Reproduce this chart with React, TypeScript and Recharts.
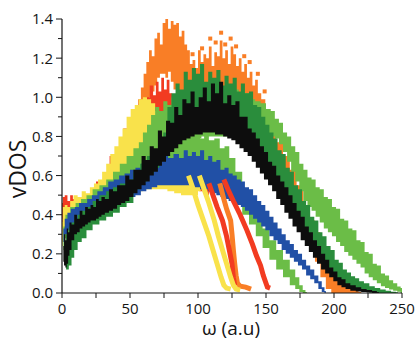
import React from 'react';
import { ComposedChart, Area, Line, Scatter, XAxis, YAxis } from 'recharts';

// [ω, lower, upper] envelopes of each noisy vDOS band
type Band = [number, number, number][];
// [ω, vDOS] points of the thin falling branches
type Pts = [number, number][];

const xTicks = [0, 25, 50, 75, 100, 125, 150, 175, 200, 225, 250];
const yTicks = [0, 0.1, 0.2, 0.3, 0.4, 0.5, 0.6, 0.7, 0.8, 0.9, 1.0, 1.1, 1.2, 1.3, 1.4];

const orangeBand: Band = [
  [55, 0.9, 0.92], [57, 0.9, 0.99], [59, 0.9, 1.05], [61, 0.92, 1.12], [63, 0.95, 1.18],
  [65, 1.0, 1.24], [67, 1.03, 1.21], [69, 1.06, 1.3], [71, 1.1, 1.33], [73, 1.12, 1.27],
  [75, 1.12, 1.38], [77, 1.1, 1.4], [79, 1.13, 1.35], [81, 1.08, 1.39], [83, 1.04, 1.37],
  [85, 0.98, 1.38], [87, 0.95, 1.31], [89, 0.92, 1.34], [91, 0.9, 1.27], [93, 0.9, 1.24],
  [95, 0.9, 1.17], [97, 0.9, 1.19], [99, 0.9, 1.15], [101, 0.9, 1.24], [103, 0.9, 1.18],
  [105, 0.9, 1.22], [107, 0.9, 1.2], [109, 0.9, 1.26], [111, 0.9, 1.16], [113, 0.9, 1.23],
  [115, 0.9, 1.21], [117, 0.9, 1.29], [119, 0.9, 1.2], [121, 0.9, 1.24], [123, 0.9, 1.17],
  [125, 0.9, 1.26], [127, 0.9, 1.22], [129, 0.9, 1.16], [131, 0.88, 1.2], [133, 0.86, 1.13],
  [135, 0.84, 1.17], [137, 0.82, 1.1], [139, 0.8, 1.13], [141, 0.78, 1.06], [143, 0.76, 1.09],
  [145, 0.73, 1.02], [148, 0.7, 0.99], [151, 0.66, 0.93], [155, 0.6, 0.84], [160, 0.54, 0.77],
  [165, 0.48, 0.7], [170, 0.42, 0.63], [175, 0.36, 0.55], [180, 0.3, 0.45], [184, 0.24, 0.37],
  [188, 0.16, 0.31], [192, 0.08, 0.25], [196, 0.02, 0.19], [200, 0, 0.13], [204, 0, 0.09],
  [208, 0, 0.06], [212, 0, 0.03], [216, 0, 0.015], [220, 0, 0.005],
];

const orangeDots: Pts = [
  [96, 1.22], [103, 1.25], [109, 1.3], [113, 1.28], [117, 1.33], [120, 1.27],
  [124, 1.3], [128, 1.26], [134, 1.21], [138, 1.18], [144, 1.12], [149, 1.03],
];

const orangeBranch: Pts = [
  [116, 0.56], [119, 0.48], [121, 0.43], [124, 0.37], [125, 0.3], [126, 0.22], [127, 0.15],
  [128, 0.09], [129, 0.05], [131, 0.035], [135, 0.03], [139, 0.02],
];

const redBand: Band = [
  [0, 0.36, 0.46], [1, 0.38, 0.49], [3, 0.4, 0.5], [5, 0.41, 0.47], [7, 0.41, 0.5],
  [9, 0.42, 0.48], [11, 0.42, 0.48], [14, 0.42, 0.47], [20, 0.43, 0.5], [30, 0.45, 0.57],
  [40, 0.48, 0.7], [50, 0.51, 0.84], [56, 0.53, 0.92], [60, 0.54, 0.96], [63, 0.55, 1.0],
  [66, 0.55, 1.06], [68, 0.56, 1.01], [70, 0.56, 1.08], [72, 0.56, 1.03], [74, 0.56, 1.1],
  [76, 0.56, 1.04], [78, 0.56, 1.09], [80, 0.56, 1.02], [82, 0.56, 0.96], [86, 0.55, 0.88],
  [92, 0.54, 0.78], [98, 0.53, 0.68], [104, 0.52, 0.6], [108, 0.5, 0.56],
];

const redBranchA: Pts = [
  [108, 0.56], [111, 0.5], [114, 0.44], [118, 0.37], [121, 0.29], [123, 0.22], [125, 0.15],
  [126, 0.08], [127, 0.04],
];

const redBranchB: Pts = [
  [119, 0.58], [122, 0.53], [126, 0.47], [131, 0.4], [136, 0.32], [140, 0.25], [143, 0.19],
  [146, 0.14], [148, 0.09], [150, 0.05], [151, 0.03], [153, 0.025],
];

const yellowBand: Band = [
  [0, 0.24, 0.36], [1, 0.26, 0.44], [3, 0.3, 0.45], [5, 0.32, 0.44], [7, 0.34, 0.47],
  [10, 0.36, 0.5], [13, 0.37, 0.49], [16, 0.38, 0.52], [19, 0.4, 0.51], [22, 0.41, 0.54],
  [25, 0.42, 0.56], [28, 0.43, 0.58], [31, 0.44, 0.62], [34, 0.45, 0.66], [37, 0.46, 0.71],
  [40, 0.47, 0.75], [43, 0.48, 0.8], [46, 0.49, 0.84], [49, 0.5, 0.9], [52, 0.51, 0.94],
  [55, 0.52, 0.96], [58, 0.52, 0.99], [61, 0.53, 1.0], [64, 0.53, 0.99], [67, 0.53, 0.97],
  [70, 0.53, 0.93], [75, 0.53, 0.88], [80, 0.52, 0.82], [85, 0.51, 0.76], [90, 0.5, 0.7],
  [94, 0.5, 0.64], [98, 0.5, 0.6], [102, 0.52, 0.58],
];

const yellowBranchA: Pts = [
  [93, 0.6], [96, 0.54], [100, 0.45], [104, 0.37], [108, 0.29], [111, 0.22], [114, 0.15],
  [117, 0.08], [119, 0.04], [121, 0.025], [124, 0.02],
];

const yellowBranchB: Pts = [
  [101, 0.6], [104, 0.54], [108, 0.46], [112, 0.37], [115, 0.29], [118, 0.22], [121, 0.15],
  [124, 0.08], [126, 0.04], [128, 0.02], [131, 0.015],
];

const lightGreenBandA: Band = [
  [1, 0.22, 0.34], [4, 0.28, 0.4], [8, 0.32, 0.44], [12, 0.35, 0.46], [16, 0.37, 0.48],
  [20, 0.39, 0.5], [25, 0.41, 0.53], [30, 0.43, 0.55], [35, 0.45, 0.58], [40, 0.47, 0.62],
  [45, 0.49, 0.66], [50, 0.51, 0.7], [55, 0.54, 0.74], [58, 0.56, 0.77], [61, 0.58, 0.82],
  [64, 0.6, 0.86], [67, 0.62, 0.91], [70, 0.64, 0.95], [73, 0.66, 0.93], [76, 0.68, 0.98],
  [79, 0.7, 0.96], [82, 0.72, 1.0], [86, 0.74, 1.0], [90, 0.76, 1.02], [95, 0.78, 1.02],
  [100, 0.79, 1.03], [105, 0.8, 1.03], [110, 0.8, 1.04], [115, 0.8, 1.03], [120, 0.8, 1.05],
  [124, 0.8, 1.02], [128, 0.79, 1.04], [132, 0.79, 1.0], [136, 0.79, 1.02], [140, 0.8, 0.99],
  [144, 0.8, 0.98], [148, 0.8, 0.97], [152, 0.8, 0.94], [155, 0.8, 0.93], [158, 0.79, 0.89],
  [161, 0.76, 0.87], [164, 0.72, 0.82], [167, 0.67, 0.8], [170, 0.62, 0.75], [173, 0.57, 0.72],
  [176, 0.52, 0.66], [179, 0.47, 0.63], [182, 0.44, 0.59], [185, 0.42, 0.58], [188, 0.39, 0.54],
  [191, 0.36, 0.53], [194, 0.33, 0.49], [197, 0.31, 0.48], [200, 0.29, 0.44], [203, 0.26, 0.43],
  [206, 0.24, 0.38], [209, 0.21, 0.37], [212, 0.19, 0.33], [215, 0.17, 0.32], [218, 0.15, 0.27],
  [221, 0.13, 0.26], [224, 0.1, 0.21], [227, 0.08, 0.2], [230, 0.065, 0.15], [233, 0.05, 0.14],
  [236, 0.035, 0.1], [239, 0.025, 0.09], [242, 0.018, 0.065], [245, 0.012, 0.05], [248, 0.006, 0.033],
  [250, 0, 0.025],
];

const lightGreenBandB: Band = [
  [70, 0.58, 0.78], [75, 0.58, 0.8], [80, 0.58, 0.8], [85, 0.58, 0.83], [90, 0.58, 0.81],
  [93, 0.58, 0.85], [96, 0.58, 0.8], [100, 0.57, 0.83], [103, 0.57, 0.79], [106, 0.56, 0.82],
  [110, 0.55, 0.78], [114, 0.53, 0.79], [118, 0.52, 0.74], [121, 0.51, 0.75], [125, 0.48, 0.69],
  [130, 0.45, 0.62], [135, 0.4, 0.52], [140, 0.35, 0.45], [145, 0.29, 0.39], [150, 0.23, 0.33],
  [155, 0.17, 0.27], [160, 0.12, 0.22], [165, 0.08, 0.17], [170, 0.04, 0.12], [173, 0.02, 0.08],
  [176, 0.005, 0.04], [178, 0, 0.015], [180, 0, 0.005],
];

const blueBand: Band = [
  [1, 0.26, 0.33], [3, 0.3, 0.38], [5, 0.32, 0.41], [8, 0.34, 0.43], [11, 0.35, 0.44],
  [14, 0.36, 0.46], [17, 0.37, 0.46], [20, 0.38, 0.48], [24, 0.4, 0.5], [28, 0.41, 0.52],
  [32, 0.42, 0.54], [36, 0.43, 0.57], [40, 0.45, 0.58], [44, 0.46, 0.6], [48, 0.48, 0.61],
  [52, 0.49, 0.63], [56, 0.5, 0.64], [60, 0.52, 0.66], [64, 0.53, 0.66], [68, 0.54, 0.68],
  [72, 0.55, 0.68], [76, 0.55, 0.7], [80, 0.55, 0.69], [84, 0.55, 0.71], [88, 0.55, 0.69],
  [91, 0.55, 0.73], [94, 0.55, 0.7], [97, 0.54, 0.72], [100, 0.54, 0.7], [103, 0.53, 0.73],
  [106, 0.53, 0.68], [109, 0.52, 0.7], [112, 0.51, 0.67], [115, 0.5, 0.68], [118, 0.49, 0.63],
  [121, 0.48, 0.64], [124, 0.47, 0.61], [127, 0.46, 0.6], [130, 0.45, 0.58], [133, 0.44, 0.57],
  [136, 0.42, 0.54], [139, 0.4, 0.53], [142, 0.38, 0.5], [145, 0.36, 0.47], [148, 0.34, 0.45],
  [151, 0.32, 0.42], [154, 0.29, 0.39], [157, 0.27, 0.36], [160, 0.25, 0.33], [163, 0.22, 0.3],
  [166, 0.2, 0.27], [169, 0.18, 0.25], [172, 0.16, 0.22], [175, 0.14, 0.2], [178, 0.12, 0.17],
  [181, 0.09, 0.14], [184, 0.07, 0.12], [187, 0.05, 0.09], [190, 0.02, 0.06], [192, 0.005, 0.03],
  [194, 0, 0.01],
];

const darkGreenBand: Band = [
  [2, 0.15, 0.26], [4, 0.12, 0.3], [6, 0.14, 0.34], [8, 0.18, 0.36], [10, 0.22, 0.38],
  [13, 0.26, 0.4], [16, 0.28, 0.42], [20, 0.32, 0.44], [25, 0.35, 0.47], [30, 0.37, 0.5],
  [35, 0.39, 0.52], [40, 0.41, 0.54], [45, 0.44, 0.56], [50, 0.46, 0.58], [55, 0.53, 0.62],
  [60, 0.57, 0.66], [65, 0.61, 0.7], [70, 0.64, 0.72], [73, 0.68, 0.78], [76, 0.7, 0.82],
  [79, 0.72, 0.95], [82, 0.74, 1.02], [85, 0.76, 1.07], [88, 0.78, 1.04], [91, 0.8, 1.13],
  [94, 0.81, 1.09], [97, 0.82, 1.15], [100, 0.83, 1.12], [103, 0.83, 1.17], [106, 0.84, 1.08],
  [109, 0.84, 1.13], [112, 0.84, 1.1], [115, 0.83, 1.14], [118, 0.83, 1.06], [121, 0.82, 1.11],
  [124, 0.81, 1.07], [127, 0.8, 1.1], [130, 0.78, 1.03], [133, 0.76, 1.07], [136, 0.74, 1.02],
  [139, 0.72, 1.03], [142, 0.69, 0.96], [145, 0.66, 0.95], [148, 0.63, 0.9], [151, 0.6, 0.86],
  [154, 0.57, 0.82], [157, 0.54, 0.79], [160, 0.5, 0.73], [163, 0.46, 0.71], [166, 0.43, 0.64],
  [169, 0.39, 0.62], [172, 0.36, 0.55], [175, 0.32, 0.53], [178, 0.29, 0.47], [181, 0.25, 0.45],
  [184, 0.22, 0.39], [187, 0.19, 0.37], [190, 0.16, 0.31], [193, 0.13, 0.29], [196, 0.11, 0.24],
  [199, 0.09, 0.22], [202, 0.07, 0.17], [205, 0.05, 0.155], [208, 0.04, 0.12], [211, 0.03, 0.105],
  [214, 0.02, 0.085], [217, 0.015, 0.075], [220, 0.01, 0.06], [224, 0.006, 0.05], [228, 0.003, 0.035],
  [232, 0, 0.025], [236, 0, 0.018], [240, 0, 0.012], [244, 0, 0.007], [247, 0, 0.004],
];

const blackBand: Band = [
  [1, 0.16, 0.24], [2, 0.14, 0.3], [3, 0.13, 0.27], [4, 0.15, 0.33], [5, 0.19, 0.31],
  [6, 0.22, 0.36], [8, 0.27, 0.35], [10, 0.3, 0.4], [12, 0.31, 0.38], [14, 0.33, 0.42],
  [16, 0.34, 0.4], [18, 0.35, 0.44], [20, 0.36, 0.43], [22, 0.37, 0.45], [24, 0.37, 0.44],
  [26, 0.38, 0.48], [28, 0.39, 0.47], [30, 0.4, 0.49], [33, 0.41, 0.48], [36, 0.42, 0.53],
  [39, 0.43, 0.52], [42, 0.45, 0.55], [45, 0.46, 0.55], [48, 0.47, 0.6], [51, 0.49, 0.58],
  [54, 0.51, 0.63], [57, 0.53, 0.63], [60, 0.55, 0.7], [63, 0.57, 0.68], [66, 0.6, 0.75],
  [69, 0.62, 0.74], [72, 0.65, 0.83], [75, 0.67, 0.8], [78, 0.7, 0.88], [81, 0.72, 0.87],
  [84, 0.74, 0.95], [87, 0.76, 0.91], [90, 0.78, 0.99], [93, 0.79, 0.97], [96, 0.8, 1.03],
  [99, 0.81, 0.95], [102, 0.81, 1.0], [105, 0.82, 1.05], [108, 0.82, 0.98], [111, 0.82, 1.07],
  [114, 0.81, 1.02], [117, 0.81, 1.08], [120, 0.8, 0.97], [123, 0.79, 1.01], [126, 0.78, 0.96],
  [129, 0.76, 0.98], [132, 0.74, 0.9], [135, 0.72, 0.9], [138, 0.7, 0.84], [141, 0.67, 0.82],
  [144, 0.64, 0.79], [147, 0.61, 0.75], [150, 0.58, 0.72], [153, 0.55, 0.67], [156, 0.52, 0.65],
  [159, 0.48, 0.6], [162, 0.45, 0.57], [165, 0.41, 0.54], [168, 0.38, 0.5], [171, 0.34, 0.46],
  [174, 0.31, 0.42], [177, 0.27, 0.39], [180, 0.24, 0.34], [183, 0.21, 0.31], [186, 0.18, 0.27],
  [189, 0.15, 0.24], [192, 0.12, 0.2], [195, 0.1, 0.17], [198, 0.08, 0.13], [201, 0.06, 0.11],
  [204, 0.04, 0.08], [207, 0.03, 0.07], [210, 0.02, 0.05], [214, 0.012, 0.04], [218, 0.008, 0.03],
  [222, 0.005, 0.02], [226, 0.003, 0.015], [230, 0, 0.01], [233, 0, 0.005],
];

const YELLOW = '#f9e24b';
const RED = '#f23b21';
const ORANGE = '#f97e26';
const LIGHT_GREEN = '#6bbd47';
const DARK_GREEN = '#2a8d3c';
const BLUE = '#2150a6';
const BLACK = '#0d0d0d';
const INK = '#151515';
const FONT = '"Open Sans", "DejaVu Sans", sans-serif';

const band = (b: Band) => b.map(([w, lo, hi]) => ({ w, r: [lo, hi] }));
const pts = (p: Pts) => p.map(([w, v]) => ({ w, v }));

const XTick = (props: any) => {
  const { x, y, payload } = props;
  if (payload.value % 50 !== 0) return <g />;
  return (
    <text x={x} y={y} dy="0.71em" textAnchor="middle" fontSize={15} fontFamily={FONT} fill={INK}>
      {payload.value}
    </text>
  );
};

// left axis: long ticks with labels every 0.2, short ones in between
const YTick = (props: any) => {
  const { x, y, payload } = props;
  const major = Math.round(payload.value * 10) % 2 === 0;
  const axisX = x + 9;
  return (
    <g>
      <line x1={axisX - (major ? 6 : 4)} x2={axisX} y1={y} y2={y} stroke={INK} strokeWidth={1} />
      {major && (
        <text x={x} y={y} dy="0.36em" textAnchor="end" fontSize={15} fontFamily={FONT} fill={INK}>
          {payload.value.toFixed(1)}
        </text>
      )}
    </g>
  );
};

const Square = (props: any) => {
  const { cx, cy } = props;
  return <rect x={cx - 2} y={cy - 2} width={4} height={4} fill={ORANGE} />;
};

// bands are drawn as stepped ranges so their edges come out blocky like the scattered points
const bandArea = (key: string, data: Band, color: string) => (
  <Area
    key={key}
    data={band(data)}
    dataKey="r"
    type="step"
    stroke="none"
    fill={color}
    fillOpacity={1}
    isAnimationActive={false}
    activeDot={false}
  />
);

const branchLine = (key: string, data: Pts, color: string) => (
  <Line
    key={key}
    data={pts(data)}
    dataKey="v"
    type="linear"
    stroke={color}
    strokeWidth={5}
    dot={false}
    activeDot={false}
    isAnimationActive={false}
  />
);

export default function App() {
  return (
    <div style={{ position: 'absolute', left: 0, top: 0, width: 416, height: 340, background: '#fff' }}>
      <ComposedChart width={416} height={340} margin={{ top: 19, right: 14, bottom: 0, left: 0 }}>
        <XAxis
          type="number"
          dataKey="w"
          domain={[0, 250]}
          ticks={xTicks}
          interval={0}
          allowDataOverflow
          height={47}
          tickSize={5}
          tickMargin={5}
          tick={XTick}
          axisLine={{ stroke: INK, strokeWidth: 1.2 }}
          tickLine={{ stroke: INK }}
        />
        <YAxis
          type="number"
          domain={[0, 1.4]}
          ticks={yTicks}
          interval={0}
          allowDataOverflow
          width={62}
          tickSize={6}
          tickMargin={3}
          tick={YTick}
          tickLine={false}
          axisLine={{ stroke: INK, strokeWidth: 1.2 }}
        />
        {bandArea('orange', orangeBand, ORANGE)}
        <Scatter data={pts(orangeDots)} dataKey="v" shape={Square} isAnimationActive={false} />
        {branchLine('orange-branch', orangeBranch, ORANGE)}
        {bandArea('red', redBand, RED)}
        {branchLine('red-a', redBranchA, RED)}
        {branchLine('red-b', redBranchB, RED)}
        {bandArea('yellow', yellowBand, YELLOW)}
        {branchLine('yellow-a', yellowBranchA, YELLOW)}
        {branchLine('yellow-b', yellowBranchB, YELLOW)}
        {bandArea('lg-a', lightGreenBandA, LIGHT_GREEN)}
        {bandArea('lg-b', lightGreenBandB, LIGHT_GREEN)}
        {bandArea('blue', blueBand, BLUE)}
        {bandArea('dark-green', darkGreenBand, DARK_GREEN)}
        {bandArea('black', blackBand, BLACK)}
      </ComposedChart>
      <div
        style={{
          position: 'absolute',
          left: 17,
          top: 169,
          transform: 'translate(-50%, -50%) rotate(-90deg)',
          fontFamily: FONT,
          fontSize: 23,
          color: INK,
          whiteSpace: 'nowrap',
          lineHeight: 1,
        }}
      >
        vDOS
      </div>
      <div
        style={{
          position: 'absolute',
          left: 231,
          top: 328,
          transform: 'translate(-50%, -50%)',
          fontFamily: FONT,
          fontSize: 19,
          color: INK,
          whiteSpace: 'nowrap',
          lineHeight: 1,
        }}
      >
        ω (a.u)
      </div>
    </div>
  );
}
